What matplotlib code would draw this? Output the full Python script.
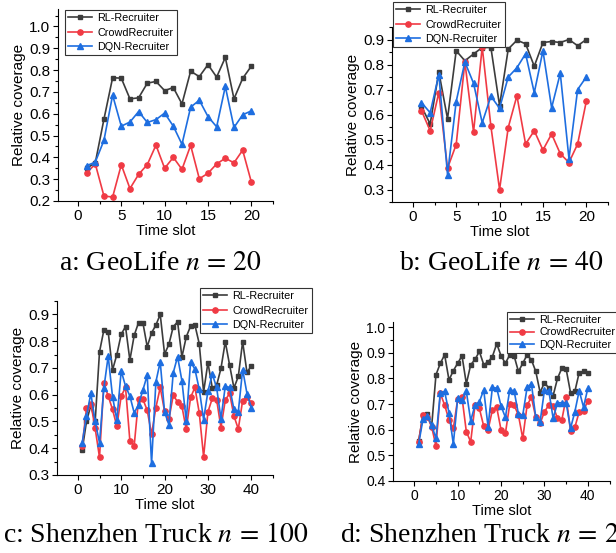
import numpy as np
import matplotlib
matplotlib.use('Agg')
import matplotlib.pyplot as plt
from matplotlib.ticker import MultipleLocator

plt.rcParams['font.family'] = ['Liberation Sans', 'DejaVu Sans']
plt.rcParams['mathtext.fontset'] = 'stix'

# a: GeoLife n = 20
a_rl = [0.35, 0.375, 0.575, 0.765, 0.763, 0.668, 0.673, 0.74, 0.748, 0.706,
        0.72, 0.645, 0.795, 0.77, 0.825, 0.768, 0.858, 0.668, 0.762, 0.818]
a_crowd = [0.328, 0.37, 0.223, 0.218, 0.366, 0.257, 0.322, 0.367, 0.456, 0.35,
           0.4, 0.345, 0.455, 0.302, 0.327, 0.37, 0.396, 0.375, 0.433, 0.287]
a_dqn = [0.362, 0.378, 0.478, 0.685, 0.543, 0.562, 0.61, 0.56, 0.573, 0.603,
         0.543, 0.46, 0.63, 0.662, 0.587, 0.54, 0.725, 0.537, 0.595, 0.613]

# b: GeoLife n = 40
b_rl = [0.632, 0.562, 0.77, 0.583, 0.855, 0.815, 0.842, 0.868, 0.868, 0.635,
        0.862, 0.897, 0.883, 0.793, 0.888, 0.892, 0.888, 0.9, 0.875, 0.9]
b_crowd = [0.615, 0.535, 0.688, 0.385, 0.48, 0.81, 0.53, 0.87, 0.553, 0.3,
           0.548, 0.675, 0.482, 0.535, 0.458, 0.522, 0.443, 0.408, 0.482, 0.653]
b_dqn = [0.648, 0.607, 0.76, 0.36, 0.652, 0.81, 0.725, 0.567, 0.673, 0.625,
         0.75, 0.787, 0.843, 0.687, 0.855, 0.627, 0.765, 0.423, 0.7, 0.75]

# c: Shenzhen Truck n = 100
c_rl = [0.393, 0.50, 0.56, 0.50, 0.76, 0.841, 0.835, 0.692, 0.75, 0.826,
        0.854, 0.729, 0.822, 0.869, 0.869, 0.779, 0.831, 0.86, 0.90, 0.752,
        0.788, 0.854, 0.872, 0.741, 0.816, 0.856, 0.86, 0.79, 0.61, 0.72,
        0.625, 0.635, 0.698, 0.798, 0.71, 0.625, 0.668, 0.798, 0.683, 0.708]
c_crowd = [0.408, 0.549, 0.567, 0.474, 0.366, 0.642, 0.595, 0.545, 0.482, 0.595,
           0.627, 0.428, 0.41, 0.583, 0.583, 0.542, 0.452, 0.552, 0.627, 0.538,
           0.508, 0.598, 0.573, 0.557, 0.47, 0.59, 0.627, 0.532, 0.368, 0.536,
           0.586, 0.582, 0.477, 0.58, 0.605, 0.52, 0.472, 0.578, 0.59, 0.57]
c_dqn = [0.42, 0.52, 0.605, 0.5, 0.42, 0.624, 0.744, 0.593, 0.505, 0.689,
         0.632, 0.595, 0.532, 0.563, 0.617, 0.673, 0.343, 0.648, 0.723, 0.535,
         0.488, 0.682, 0.742, 0.652, 0.502, 0.723, 0.695, 0.62, 0.507, 0.613,
         0.677, 0.627, 0.51, 0.632, 0.627, 0.545, 0.536, 0.694, 0.604, 0.552]

# d: Shenzhen Truck n = 200
d_rl = [0.555, 0.657, 0.661, 0.612, 0.814, 0.859, 0.892, 0.794, 0.83, 0.859,
        0.888, 0.779, 0.853, 0.874, 0.905, 0.854, 0.864, 0.885, 0.935, 0.888,
        0.859, 0.892, 0.888, 0.827, 0.859, 0.892, 0.872, 0.827, 0.745, 0.784,
        0.762, 0.733, 0.8, 0.84, 0.836, 0.745, 0.749, 0.823, 0.827, 0.82]
d_crowd = [0.553, 0.657, 0.651, 0.612, 0.536, 0.742, 0.696, 0.638, 0.605, 0.719,
           0.726, 0.592, 0.553, 0.696, 0.683, 0.614, 0.599, 0.677, 0.687, 0.599,
           0.586, 0.7, 0.696, 0.657, 0.566, 0.696, 0.726, 0.648, 0.625, 0.67,
           0.696, 0.692, 0.644, 0.638, 0.726, 0.596, 0.609, 0.67, 0.674, 0.713]
d_dqn = [0.544, 0.64, 0.653, 0.618, 0.566, 0.745, 0.749, 0.666, 0.544, 0.722,
         0.716, 0.749, 0.635, 0.696, 0.709, 0.755, 0.612, 0.765, 0.762, 0.692,
         0.648, 0.755, 0.752, 0.661, 0.657, 0.765, 0.778, 0.648, 0.631, 0.755,
         0.752, 0.644, 0.705, 0.705, 0.705, 0.605, 0.67, 0.752, 0.688, 0.762]

labels = ['RL-Recruiter', 'CrowdRecruiter', 'DQN-Recruiter']
captions = [r'a: GeoLife $n\,=\,20$', r'b: GeoLife $n\,=\,40$',
            r'c: Shenzhen Truck $n\,=\,100$', r'd: Shenzhen Truck $n\,=\,200$']

W, H = 616, 553
fig = plt.figure(figsize=(W / 100, H / 100), dpi=100)


def panel(l, r, t, b):
    return fig.add_axes([l / W, 1 - b / H, (r - l) / W, (b - t) / H])


def draw(ax, rl, crowd, dqn, xlim, ylim, yticks, xmaj, fs, leg_xy, lsp):
    x = np.arange(1, len(rl) + 1)
    ax.plot(x, rl, color='#3c3c3c', marker='s', ms=3.4, lw=1.2, label=labels[0])
    ax.plot(x, crowd, color='#f03a44', marker='o', ms=3.8, lw=1.2, label=labels[1])
    ax.plot(x, dqn, color='#1e6ee0', marker='^', ms=4.4, lw=1.2, label=labels[2])
    ax.set_xlim(*xlim)
    ax.set_ylim(*ylim)
    ax.set_yticks(yticks)
    ax.yaxis.set_minor_locator(MultipleLocator(0.05))
    ax.xaxis.set_major_locator(MultipleLocator(xmaj))
    ax.xaxis.set_minor_locator(MultipleLocator(xmaj / 2))
    for s in ['top', 'right']:
        ax.spines[s].set_visible(False)
    ax.tick_params(which='major', direction='out', length=3.5, width=0.8,
                   labelsize=fs, pad=2)
    ax.tick_params(which='minor', direction='out', length=2, width=0.8)
    ax.set_xlabel('Time slot', fontsize=10.5, labelpad=1)
    ax.set_ylabel('Relative coverage', fontsize=11, labelpad=2)
    leg = ax.legend(loc='upper left', bbox_to_anchor=(leg_xy[0] / W, 1 - leg_xy[1] / H),
                    bbox_transform=fig.transFigure, fontsize=7.8, frameon=True,
                    fancybox=False, edgecolor='#333333', framealpha=1,
                    borderpad=0.3, labelspacing=lsp, handlelength=2.2,
                    handletextpad=0.5, borderaxespad=0)
    leg.get_frame().set_linewidth(0.8)


ax_a = panel(58, 273, 9, 201)
draw(ax_a, a_rl, a_crowd, a_dqn, (-2.3, 22.5), (0.2, 1.08),
     [0.2, 0.3, 0.4, 0.5, 0.6, 0.7, 0.8, 0.9, 1.0], 5, 11, (65, 10), 0.4)

ax_b = panel(392, 608, 27, 202)
draw(ax_b, b_rl, b_crowd, b_dqn, (-2.4, 22.5), (0.25, 0.95),
     [0.3, 0.4, 0.5, 0.6, 0.7, 0.8, 0.9], 5, 11, (393, 2), 0.4)

ax_c = panel(57, 273, 301, 475)
draw(ax_c, c_rl, c_crowd, c_dqn, (-4.8, 45), (0.3, 0.95),
     [0.3, 0.4, 0.5, 0.6, 0.7, 0.8, 0.9], 10, 11, (200, 288), 0.4)

ax_d = panel(393, 610, 322, 481)
draw(ax_d, d_rl, d_crowd, d_dqn, (-4.9, 45.1), (0.4, 1.02),
     [0.4, 0.5, 0.6, 0.7, 0.8, 0.9, 1.0], 10, 10, (507, 312), 0.2)

cap = dict(fontsize=20, family='Liberation Serif', va='center')
fig.text(160 / W, 1 - 264 / H, captions[0], ha='center', **cap)
fig.text(501 / W, 1 - 264 / H, captions[1], ha='center', **cap)
fig.text(3 / W, 1 - 535 / H, captions[2], ha='left', **cap)
fig.text(340 / W, 1 - 535 / H, captions[3], ha='left', **cap)

fig.savefig('out.png', dpi=100)
